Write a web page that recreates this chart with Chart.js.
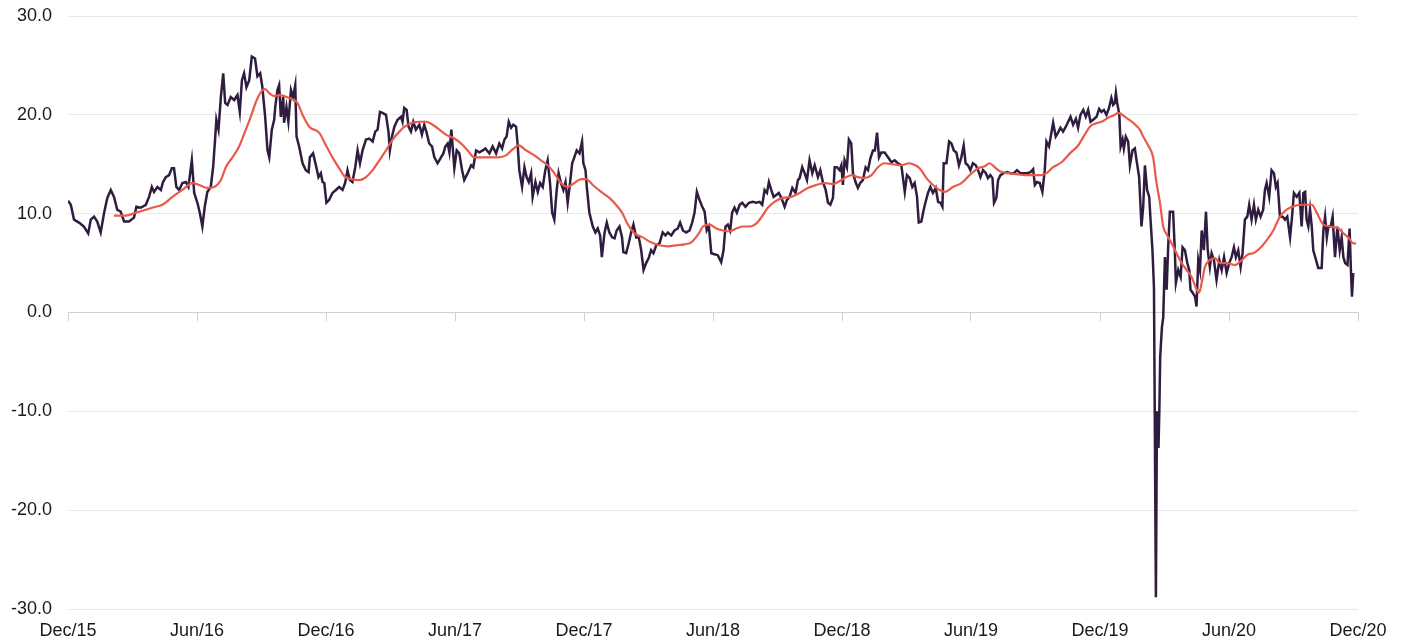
<!DOCTYPE html>
<html>
<head>
<meta charset="utf-8">
<script src="https://cdn.jsdelivr.net/npm/chart.js@4/dist/chart.umd.min.js"></script>
<style>
  html, body { margin: 0; padding: 0; background: #fff; }
  #wrap { width: 1405px; height: 642px; position: relative; }
</style>
</head>
<body>
<div id="wrap"><canvas id="chart"></canvas></div>
<script>
// x values are months since Dec 2015
const discountMonths = [
  0.00,0.13,0.28,0.51,0.74,0.94,1.06,1.21,1.36,1.52,1.68,1.83,1.99,2.14,2.29,2.45,2.61,2.84,3.07,3.18,
  3.38,3.62,3.77,3.90,4.00,4.16,4.32,4.42,4.55,4.70,4.83,4.93,5.04,5.17,5.32,5.48,5.60,5.76,5.87,6.02,
  6.13,6.25,6.36,6.48,6.64,6.75,6.84,6.90,7.00,7.11,7.22,7.31,7.42,7.57,7.73,7.88,7.99,8.09,8.19,8.30,
  8.43,8.55,8.70,8.81,8.94,9.04,9.17,9.28,9.36,9.48,9.59,9.64,9.74,9.82,9.90,10.01,10.05,10.16,10.25,10.37,
  10.47,10.57,10.63,10.75,10.91,11.06,11.19,11.25,11.40,11.53,11.65,11.76,11.84,11.92,12.02,12.15,12.30,12.46,12.61,12.77,
  12.89,13.00,13.11,13.23,13.36,13.47,13.58,13.70,13.86,14.01,14.17,14.29,14.40,14.51,14.63,14.79,14.91,14.97,15.07,15.18,
  15.33,15.49,15.56,15.64,15.75,15.84,15.95,16.06,16.18,16.34,16.46,16.57,16.68,16.80,16.93,17.04,17.19,17.35,17.46,17.55,
  17.66,17.74,17.83,17.89,17.97,18.08,18.20,18.33,18.43,18.59,18.75,18.85,18.98,19.13,19.29,19.41,19.60,19.75,19.91,20.06,
  20.19,20.30,20.40,20.50,20.61,20.71,20.84,20.91,20.99,21.12,21.23,21.33,21.43,21.54,21.61,21.74,21.85,21.96,22.08,22.20,
  22.31,22.42,22.52,22.62,22.73,22.82,22.93,23.04,23.14,23.24,23.35,23.45,23.55,23.66,23.79,23.91,23.97,24.07,24.13,24.25,
  24.41,24.53,24.64,24.75,24.83,24.95,25.06,25.18,25.31,25.42,25.52,25.65,25.77,25.83,25.96,26.08,26.19,26.30,26.43,26.55,
  26.66,26.77,26.89,27.01,27.12,27.23,27.36,27.51,27.66,27.79,27.90,28.06,28.21,28.36,28.47,28.60,28.75,28.91,29.03,29.14,
  29.25,29.37,29.50,29.61,29.71,29.81,29.92,30.07,30.22,30.38,30.49,30.58,30.69,30.80,30.89,31.00,31.11,31.24,31.36,31.51,
  31.67,31.85,32.01,32.17,32.29,32.40,32.51,32.60,32.71,32.82,32.94,33.06,33.18,33.33,33.44,33.56,33.69,33.84,33.95,34.03,
  34.15,34.26,34.37,34.49,34.62,34.73,34.88,34.99,35.11,35.24,35.35,35.46,35.58,35.66,35.76,35.89,35.97,36.04,36.12,36.23,
  36.32,36.43,36.51,36.63,36.74,36.85,36.97,37.10,37.21,37.32,37.44,37.53,37.63,37.72,37.83,37.98,38.14,38.30,38.45,38.60,
  38.76,38.92,39.02,39.15,39.27,39.38,39.49,39.57,39.69,39.80,39.89,40.00,40.11,40.23,40.36,40.47,40.58,40.67,40.73,40.86,
  40.98,41.09,41.20,41.32,41.44,41.55,41.66,41.75,41.86,41.97,42.09,42.22,42.33,42.44,42.56,42.69,42.79,42.90,43.00,43.07,
  43.18,43.26,43.37,43.52,43.68,43.84,43.99,44.14,44.30,44.45,44.61,44.77,44.89,44.97,45.07,45.20,45.32,45.43,45.51,45.63,
  45.74,45.82,45.94,46.05,46.16,46.28,46.41,46.52,46.63,46.75,46.88,46.98,47.09,47.22,47.34,47.45,47.56,47.68,47.84,47.96,
  48.07,48.18,48.30,48.42,48.53,48.61,48.69,48.74,48.80,48.90,48.96,49.05,49.11,49.20,49.31,49.39,49.51,49.62,49.70,49.82,
  49.93,50.01,50.09,50.19,50.29,50.35,50.44,50.51,50.60,50.65,50.72,50.76,50.80,50.88,50.94,51.02,51.10,51.17,51.25,51.40,
  51.48,51.53,51.64,51.75,51.84,51.95,52.06,52.15,52.21,52.31,52.42,52.49,52.57,52.65,52.73,52.83,52.93,53.01,53.11,53.19,
  53.30,53.42,53.55,53.66,53.77,53.89,54.01,54.12,54.23,54.32,54.43,54.54,54.63,54.74,54.85,54.94,55.05,55.16,55.25,55.36,
  55.47,55.59,55.67,55.75,55.87,55.98,56.09,56.18,56.26,56.37,56.50,56.60,56.71,56.84,56.92,57.02,57.15,57.27,57.38,57.46,
  57.54,57.61,57.69,57.77,57.85,57.92,58.05,58.15,58.31,58.39,58.47,58.55,58.62,58.73,58.82,58.93,59.04,59.15,59.24,59.32,
  59.40,59.51,59.61,59.67,59.72,59.78
];
const discountValues = [
  11.3,10.9,9.4,9.1,8.7,8.0,9.4,9.7,9.2,8.1,10.1,11.6,12.4,11.7,10.4,10.2,9.2,9.2,9.6,10.7,
  10.6,10.9,11.7,12.7,12.2,12.7,12.4,13.2,13.7,13.9,14.6,14.6,12.7,12.4,13.1,13.2,12.7,15.4,12.1,11.1,
  10.1,8.7,10.7,12.2,12.7,14.7,17.5,19.5,18.5,21.8,24.2,21.2,21.0,21.8,21.5,22.0,20.3,23.5,24.2,22.8,
  23.5,25.9,25.7,23.9,24.2,22.8,19.8,16.4,15.7,18.5,19.5,20.8,22.5,23.0,19.8,21.8,19.2,20.8,19.3,22.5,
  21.8,23.0,17.8,16.8,15.1,14.4,14.2,15.7,16.1,14.9,13.7,14.1,13.2,13.1,11.1,11.4,12.1,12.4,12.7,12.4,
  13.1,14.4,13.4,13.2,14.7,16.4,15.1,16.4,17.5,17.6,17.3,18.3,18.5,20.3,20.2,20.0,18.2,16.4,17.8,18.8,
  19.5,19.8,19.3,20.7,20.5,18.8,18.3,19.3,18.5,19.0,18.0,19.0,18.2,17.1,16.8,15.7,15.1,15.7,16.1,16.8,
  17.1,16.2,18.5,16.8,14.6,16.4,16.1,14.4,13.4,14.1,14.9,14.7,16.4,16.2,16.4,16.6,16.1,16.8,16.1,17.1,
  16.6,17.5,17.8,19.3,18.7,19.0,18.8,17.1,14.4,12.7,14.7,13.7,13.2,14.1,11.7,13.2,12.2,13.1,12.7,14.4,
  15.4,13.1,10.1,9.4,12.4,14.1,13.1,12.4,13.2,11.1,13.1,15.1,15.7,16.4,16.1,17.3,15.1,14.4,12.7,10.1,
  8.7,8.1,8.5,7.8,5.6,8.0,9.1,8.1,7.6,7.5,8.3,8.7,7.6,6.1,6.0,7.0,8.1,8.9,7.6,7.6,
  6.3,4.3,5.0,5.5,6.3,6.0,6.8,7.0,8.1,7.8,8.1,7.8,8.3,8.5,9.1,8.3,8.1,8.3,9.1,10.1,
  12.2,11.4,10.7,10.2,8.3,8.7,6.0,5.9,5.8,5.1,6.3,8.7,8.9,8.3,10.1,10.6,10.1,10.9,11.1,10.7,
  11.1,11.2,11.1,11.2,10.9,12.4,12.1,13.2,12.4,11.7,11.9,12.1,11.6,10.7,11.4,11.7,12.6,12.1,13.4,13.6,
  14.7,14.1,13.4,15.4,14.1,14.9,13.7,14.4,13.2,12.4,11.1,10.9,11.6,14.7,14.7,14.4,14.9,12.9,15.4,14.7,
  17.5,17.1,14.1,13.2,12.6,13.1,13.4,14.7,14.4,15.6,16.4,16.4,18.2,15.7,16.2,16.2,15.7,15.2,15.4,15.1,
  14.9,12.2,13.9,13.6,12.7,13.1,11.7,9.1,9.2,10.4,11.2,12.1,12.7,12.1,12.6,11.2,11.1,10.7,15.1,15.1,
  17.3,17.1,16.4,16.2,14.9,15.7,16.9,15.1,14.9,14.4,15.1,14.9,14.4,13.7,14.4,14.1,13.6,13.9,13.6,11.1,
  11.6,13.4,13.9,14.1,14.2,14.1,14.1,14.4,14.1,14.1,14.1,14.2,14.5,12.9,13.2,13.1,12.2,14.4,17.3,16.8,
  18.2,19.2,17.8,18.2,18.7,18.3,18.8,19.3,19.8,19.0,19.6,18.7,20.0,20.5,19.8,20.5,19.3,19.5,19.8,20.6,
  20.3,20.5,20.0,20.7,21.7,21.0,21.2,22.2,21.2,20.0,16.8,17.5,16.6,17.8,17.3,14.9,16.4,16.6,15.4,13.7,
  8.7,10.7,14.9,12.4,11.7,9.4,6.3,2.5,-28.8,-10.0,-13.7,-10.0,-4.5,-1.5,-0.5,5.6,2.3,6.6,10.2,10.2,
  6.3,3.0,4.3,3.6,6.6,6.3,5.0,4.3,2.3,2.0,1.6,0.6,5.3,4.3,8.3,6.3,10.2,6.3,4.6,6.0,
  5.3,3.3,5.3,4.3,5.6,4.0,5.0,5.6,6.6,5.6,6.3,4.6,6.0,9.4,9.7,10.9,9.4,10.9,9.4,10.4,
  9.7,10.4,12.4,13.1,11.7,14.4,14.1,12.7,13.1,9.7,9.7,9.4,9.7,7.6,9.4,12.1,11.7,12.1,8.7,12.1,
  12.2,9.4,8.7,10.4,8.7,6.3,5.3,4.5,4.5,8.3,9.7,7.6,8.7,8.7,9.7,5.6,8.7,6.3,7.6,5.6,
  5.0,4.8,8.5,4.3,1.6,4.0
];

const averageMonths = [
  2.14,2.69,3.15,3.62,4.08,4.39,4.86,5.32,5.79,6.10,6.48,6.80,7.11,7.34,7.65,7.96,8.27,8.50,8.74,8.97,
  9.17,9.36,9.59,9.82,10.29,10.67,10.91,11.22,11.68,12.00,12.30,12.61,12.85,13.16,13.55,13.86,14.17,14.48,14.79,15.10,
  15.41,15.72,16.03,16.34,16.65,16.96,17.27,17.58,17.97,18.28,18.59,18.90,19.13,19.60,19.98,20.37,20.68,20.96,21.31,21.69,
  22.00,22.31,22.62,22.93,23.24,23.55,23.87,24.10,24.41,24.80,25.18,25.49,25.77,26.04,26.35,26.73,27.12,27.51,27.90,28.29,
  28.67,28.99,29.34,29.53,29.84,30.15,30.46,30.77,31.08,31.39,31.70,32.01,32.24,32.55,32.86,33.25,33.64,34.03,34.41,34.80,
  35.19,35.58,35.97,36.20,36.46,36.74,37.05,37.37,37.67,37.98,38.37,38.76,39.12,39.30,39.61,39.93,40.23,40.54,40.78,41.16,
  41.55,41.94,42.33,42.64,42.87,43.10,43.34,43.72,44.11,44.50,44.89,45.28,45.51,45.82,46.21,46.60,46.98,47.29,47.53,47.76,
  48.07,48.38,48.69,48.84,49.23,49.54,49.85,50.01,50.24,50.47,50.63,50.79,50.94,51.13,51.33,51.56,51.80,52.03,52.26,52.46,
  52.61,52.73,52.88,53.11,53.35,53.58,53.89,54.28,54.59,54.90,55.13,55.44,55.75,56.06,56.37,56.68,57.07,57.46,57.85,58.08,
  58.39,58.70,59.09,59.32,59.55,59.78,59.91
];
const averageValues = [
  9.8,9.8,10.1,10.4,10.7,10.9,11.7,12.4,13.1,12.9,12.6,12.7,13.4,14.7,15.7,16.8,18.5,19.8,21.3,22.3,
  22.6,22.2,21.9,22.0,21.7,21.2,20.0,18.8,18.2,16.9,15.7,14.6,13.8,13.5,13.4,13.7,14.4,15.4,16.4,17.5,
  18.3,18.9,19.2,19.3,19.3,19.0,18.5,18.0,17.6,17.1,16.4,15.7,15.7,15.7,15.7,15.9,16.5,16.9,16.4,15.9,
  15.4,14.9,14.1,13.1,12.7,13.1,13.5,13.5,12.9,12.2,11.6,10.9,10.1,8.9,8.0,7.6,7.1,6.8,6.7,6.8,
  6.9,7.1,8.0,8.7,8.9,8.5,8.3,8.2,8.5,8.7,8.7,9.0,9.6,10.6,11.2,11.6,11.7,12.1,12.6,12.9,
  13.1,13.0,13.4,13.7,13.9,13.7,13.6,13.9,14.7,15.1,15.0,14.9,15.1,15.0,14.6,13.6,12.9,12.4,12.2,12.7,
  13.1,13.9,14.6,14.8,15.1,14.7,14.3,14.1,14.0,13.9,13.9,13.9,14.1,14.7,15.2,16.1,16.9,18.0,18.8,19.1,
  19.3,19.7,20.0,20.2,19.7,19.2,18.5,17.8,16.9,15.7,13.1,11.1,8.7,7.8,7.0,6.0,5.0,4.3,3.6,2.5,
  2.0,3.0,4.6,5.3,5.5,5.0,5.0,4.8,5.3,5.9,6.0,6.5,7.3,8.3,9.7,10.4,10.8,10.9,10.9,10.1,
  8.9,8.7,8.5,8.0,7.6,7.0,7.0
];

const tickLabels = ['Dec/15','Jun/16','Dec/16','Jun/17','Dec/17','Jun/18','Dec/18','Jun/19','Dec/19','Jun/20','Dec/20'];
const yTicks = [-30, -20, -10, 0, 10, 20, 30];

const toPoints = (xs, ys) => xs.map((x, i) => ({ x: x, y: ys[i] }));

const fontSpec = { family: '"Liberation Sans", Arial, sans-serif', size: 18 };

const ctx = document.getElementById('chart').getContext('2d');
new Chart(ctx, {
    type: 'line',
    data: {
        datasets: [{
            label: 'Discount',
            data: toPoints(discountMonths, discountValues),
            borderColor: '#2f1c3f',
            borderWidth: 2.5,
            pointRadius: 0,
            tension: 0,
            order: 2
        }, {
            label: 'Average',
            data: toPoints(averageMonths, averageValues),
            borderColor: '#ea5a4b',
            borderWidth: 2.2,
            pointRadius: 0,
            cubicInterpolationMode: 'monotone',
            order: 1
        }]
    },
    options: {
        responsive: true,
        maintainAspectRatio: false,
        animation: false,
        layout: { padding: { top: 16, right: 47, bottom: 0, left: 0 } },
        scales: {
            x: {
                type: 'linear',
                min: 0,
                max: 60,
                afterFit: (s) => { s.height = 33; },
                grid: { display: false, drawTicks: false },
                border: { display: false },
                ticks: {
                    stepSize: 6,
                    autoSkip: false,
                    maxRotation: 0,
                    padding: 11,
                    color: '#1a1a1a',
                    font: fontSpec,
                    callback: (v) => tickLabels[Math.round(v / 6)]
                }
            },
            xZero: {
                type: 'linear',
                position: { y: 0 },
                min: 0,
                max: 60,
                afterFit: (s) => { s.height = 0; },
                grid: { drawOnChartArea: false, drawTicks: true, tickLength: 8, color: '#d0d0d0' },
                border: { display: true, color: '#d0d0d0', width: 1 },
                ticks: { stepSize: 6, display: false }
            },
            y: {
                min: -30,
                max: 30,
                afterFit: (s) => { s.width = 68; s.paddingTop = 0; s.paddingBottom = 0; },
                afterBuildTicks: (s) => { s.ticks = yTicks.map(v => ({ value: v })); },
                grid: { color: '#e8e8e8', drawTicks: false },
                border: { display: false },
                ticks: {
                    padding: 16,
                    color: '#1a1a1a',
                    font: fontSpec,
                    callback: (v) => v.toFixed(1)
                }
            }
        },
        plugins: {
            legend: { display: false },
            tooltip: { enabled: false }
        }
    }
});
</script>
</body>
</html>
